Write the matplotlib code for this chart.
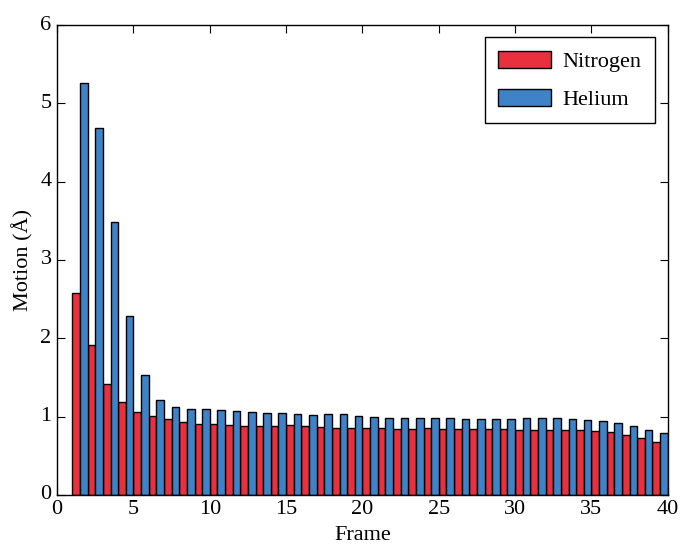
import numpy as np
import matplotlib
matplotlib.use("Agg")
import matplotlib.pyplot as plt

plt.style.use("classic")
plt.rcParams['font.family'] = ['Liberation Serif', 'DejaVu Serif']

# per-frame motion (Angstrom)
frames = list(range(1, 40))
nitrogen = [2.58, 1.91, 1.41, 1.19, 1.06, 1.01, 0.97, 0.93, 0.90, 0.906,
            0.894, 0.881, 0.877, 0.881, 0.889, 0.885, 0.864, 0.851, 0.851, 0.851,
            0.851, 0.847, 0.847, 0.851, 0.847, 0.847, 0.843, 0.838, 0.838, 0.834,
            0.83, 0.83, 0.83, 0.826, 0.82, 0.80, 0.77, 0.72, 0.68]
helium = [5.26, 4.69, 3.49, 2.29, 1.53, 1.21, 1.12, 1.10, 1.094, 1.081,
          1.068, 1.06, 1.051, 1.043, 1.034, 1.026, 1.03, 1.03, 1.005, 0.996,
          0.987, 0.987, 0.987, 0.983, 0.983, 0.975, 0.975, 0.975, 0.975, 0.978,
          0.978, 0.978, 0.975, 0.953, 0.94, 0.92, 0.885, 0.834, 0.79]

x = np.array(frames, dtype=float)
w = 0.5

fig = plt.figure(figsize=(6.8, 5.45), dpi=100, facecolor='white')
ax = fig.add_axes([0.084, 0.092, 0.898, 0.862])

ax.bar(x, nitrogen, width=w, align='edge', color='#e8303f',
       edgecolor='black', linewidth=1.0, label='Nitrogen')
ax.bar(x + w, helium, width=w, align='edge', color='#3e82c8',
       edgecolor='black', linewidth=1.0, label='Helium')

ax.set_xlim(0, 40)
ax.set_ylim(0, 6)
ax.set_xticks([0, 5, 10, 15, 20, 25, 30, 35, 40])
ax.set_yticks([0, 1, 2, 3, 4, 5, 6])
ax.tick_params(labelsize=16, direction='in', length=6, width=0.8)
ax.set_xlabel('Frame', fontsize=16, labelpad=5)
ax.set_ylabel('Motion (Å)', fontsize=16)
for s in ax.spines.values():
    s.set_linewidth(1.0)

leg = ax.legend(loc='upper right', fontsize=16, fancybox=False,
                handlelength=2.4, handleheight=0.8, borderpad=0.6,
                labelspacing=0.75, handletextpad=0.5, borderaxespad=0,
                bbox_to_anchor=(0.979, 0.974))
leg.get_frame().set_edgecolor('black')
leg.get_frame().set_linewidth(1.0)

fig.savefig('out.png', dpi=100, facecolor='white')
